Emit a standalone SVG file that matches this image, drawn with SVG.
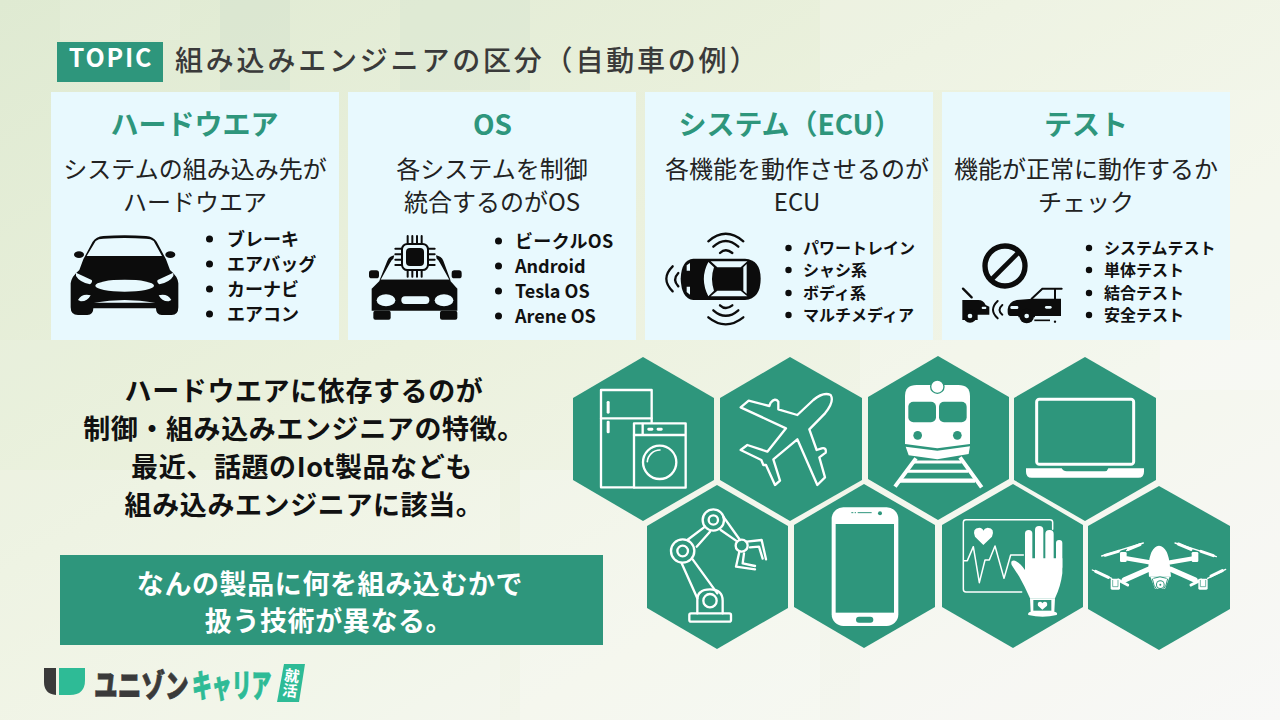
<svg xmlns="http://www.w3.org/2000/svg" width="1280" height="720" viewBox="0 0 1280 720">
<style>
text{font-family:"Noto Sans CJK JP","Noto Sans",sans-serif}
.card{fill:#e8f9fe}
.hd{font-size:28px;font-weight:700;fill:#2e967c;text-anchor:middle}
.bd{font-size:24px;font-weight:400;fill:#222;text-anchor:middle}
.l1{font-size:18px;font-weight:700;fill:#111}
.l2{font-size:16px;font-weight:700;fill:#111}
.lead{font-size:27px;font-weight:700;fill:#111;text-anchor:middle;letter-spacing:.6px}
.ban{font-size:27px;font-weight:700;fill:#fff;text-anchor:middle;letter-spacing:.6px}
.hex{fill:#2e967c}
.ws{fill:none;stroke:#fff;stroke-linecap:round;stroke-linejoin:round}
.w{fill:#fff}
.g{fill:#2e967c}
.k{fill:#0c0c0c}
.c{fill:#e8f9fe}
.ks{fill:none;stroke:#0c0c0c;stroke-linecap:round}
</style>
<defs>
<linearGradient id="bg" x1="0" y1="0" x2="1" y2="1">
<stop offset="0" stop-color="#dfead2"/><stop offset=".4" stop-color="#ebf1dd"/><stop offset=".7" stop-color="#f2f5ea"/><stop offset="1" stop-color="#f7f7f5"/>
</linearGradient>
</defs>
<rect id="background" width="1280" height="720" fill="url(#bg)"/>
<g id="mosaic" fill="#fff">
<rect x="0" y="470" width="500" height="250" opacity=".18"/>
<rect x="520" y="470" width="300" height="250" opacity=".22"/>
<rect x="820" y="0" width="460" height="90" opacity=".18"/>
<rect x="1160" y="90" width="120" height="300" opacity=".25"/>
<rect x="60" y="0" width="120" height="40" opacity=".1"/>
<rect x="0" y="340" width="100" height="130" opacity=".08"/>
<rect x="860" y="340" width="420" height="380" opacity=".2"/>
<rect x="220" y="0" width="70" height="90" fill="#cfe0cb" opacity=".35"/>
<rect x="400" y="0" width="130" height="90" fill="#cfe0cb" opacity=".22"/>
</g>

<g id="title">
<rect x="57" y="42" width="106" height="40" fill="#2e967c"/>
<text x="111" y="67" font-size="25" font-weight="700" fill="#fff" text-anchor="middle" letter-spacing="1.8">TOPIC</text>
<text x="175" y="71" font-size="28" font-weight="500" fill="#3a3a3a" letter-spacing="2.8">組み込みエンジニアの区分（自動車の例）</text>
</g>

<g id="card-hardware">
<rect class="card" x="51" y="92" width="288" height="248"/>
<text class="hd" x="194.500" y="134.500">ハードウエア</text>
<text class="bd" x="195" y="178">システムの組み込み先が</text>
<text class="bd" x="195" y="211">ハードウエア</text>
<g transform="translate(50 220) scale(.33333)">
<path class="k" d="M100 118 L128 65 Q138 50 160 48 Q224 44 288 48 Q310 50 320 65 L348 118 L360 150 Q384 170 385 190 V262 Q385 285 365 285 H335 Q318 285 318 265 H130 Q130 285 112 285 H84 Q62 285 62 262 V190 Q64 170 88 150Z"/>
<ellipse class="k" cx="87" cy="104" rx="15" ry="10"/><ellipse class="k" cx="361" cy="104" rx="15" ry="10"/>
<path class="c" d="M110 108 L137 63 Q145 56 160 56 Q224 52 288 56 Q303 56 311 63 L336 108Z"/>
<path class="c" d="M78 158 L125 180 Q129 186 120 193 Q88 186 78 168Z M370 158 L323 180 Q319 186 328 193 Q360 186 370 168Z"/>
<ellipse class="c" cx="224" cy="197" rx="88" ry="18"/>
<path class="c" d="M84 240 Q95 220 122 226 Q112 245 92 244Z M364 240 Q353 220 326 226 Q336 245 356 244Z M132 248 Q224 232 316 248Z"/>
</g>
<circle cx="209.500" cy="239" r="3.500" class="k"/><circle cx="209.500" cy="264" r="3.500" class="k"/><circle cx="209.500" cy="289" r="3.500" class="k"/><circle cx="209.500" cy="314" r="3.500" class="k"/>
<text class="l1" x="227" y="246">ブレーキ</text>
<text class="l1" x="227" y="271">エアバッグ</text>
<text class="l1" x="227" y="296">カーナビ</text>
<text class="l1" x="227" y="321">エアコン</text>
</g>

<g id="card-os">
<rect class="card" x="348" y="92" width="288" height="248"/>
<text class="hd" x="492.500" y="134.500">OS</text>
<text class="bd" x="492" y="178">各システムを制御</text>
<text class="bd" x="492" y="211">統合するのがOS</text>
<g transform="translate(360 228) scale(.33333)">
<path class="k" d="M58 158 L82 98 Q88 85 103 82 L100 92 Q95 95 90 105 L62 155 H268 L240 105 Q235 95 230 92 L228 82 Q244 85 250 98 L272 158Z"/>
<rect class="k" x="27" y="127" width="30" height="24" rx="8"/><rect class="k" x="275" y="127" width="30" height="24" rx="8"/>
<path class="k" d="M62 155 H268 L292 182 V248 H35 V182Z"/>
<rect class="k" x="40" y="248" width="52" height="27" rx="6"/><rect class="k" x="240" y="248" width="52" height="27" rx="6"/>
<ellipse class="c" cx="78" cy="217" rx="28" ry="18"/><ellipse class="c" cx="252" cy="217" rx="28" ry="18"/><rect class="c" x="124" y="205" width="84" height="23" rx="11"/>
<rect class="c" x="118" y="40" width="94" height="94" rx="16"/>
<rect x="126" y="48" width="78" height="78" rx="16" fill="none" stroke="#0c0c0c" stroke-width="6"/>
<rect class="k" x="138" y="60" width="54" height="54" rx="12"/>
<path stroke="#0c0c0c" stroke-width="6" stroke-linecap="round" fill="none" d="M143 24 V46 M157 24 V46 M171 24 V46 M185 24 V46 M143 128 V146 M157 128 V146 M171 128 V146 M185 128 V146 M106 62 H124 M106 79 H124 M106 95 H124 M106 111 H124 M206 62 H224 M206 79 H224 M206 95 H224 M206 111 H224"/>
</g>
<circle cx="498.500" cy="241" r="3.500" class="k"/><circle cx="498.500" cy="266" r="3.500" class="k"/><circle cx="498.500" cy="291" r="3.500" class="k"/><circle cx="498.500" cy="316" r="3.500" class="k"/>
<text class="l1" x="515" y="248" letter-spacing=".35">ビークルOS</text>
<text class="l1" x="515" y="273">Android</text>
<text class="l1" x="515" y="298">Tesla OS</text>
<text class="l1" x="515" y="323">Arene OS</text>
</g>

<g id="card-ecu">
<rect class="card" x="645" y="92" width="288" height="248"/>
<text class="hd" x="790" y="134.500">システム（ECU）</text>
<text class="bd" x="797" y="178">各機能を動作させるのが</text>
<text class="bd" x="797" y="211">ECU</text>
<g transform="translate(660 228) scale(.33333)">
<path class="k" d="M100 92 H255 Q302 95 302 152 Q302 212 255 216 H100 Q64 212 62 152 Q64 95 100 92Z"/>
<path class="c" d="M152 100 H262 L242 118 H172Z M152 205 H262 L242 188 H172Z M145 102 L162 118 Q150 152 162 188 L145 205 Q118 152 145 102Z M250 118 L260 108 V197 L250 188Z"/>
<path class="c" d="M80 112 L90 105 V128 L80 128Z M80 192 L90 200 V176 L80 176Z"/>
<g class="ks" stroke-width="7"><path d="M145 40 Q197 -5 250 40"/><path d="M160 56 Q197 22 235 56"/><path d="M180 75 Q197 58 217 75"/><path d="M180 232 Q197 248 217 232"/><path d="M160 247 Q197 280 235 247"/><path d="M145 268 Q197 310 250 268"/><path d="M38 115 Q0 152 38 190"/><path d="M55 135 Q36 155 55 175"/></g>
</g>
<circle cx="788.500" cy="248" r="3.200" class="k"/><circle cx="788.500" cy="270" r="3.200" class="k"/><circle cx="788.500" cy="293" r="3.200" class="k"/><circle cx="788.500" cy="315" r="3.200" class="k"/>
<text class="l2" x="803" y="254">パワートレイン</text>
<text class="l2" x="803" y="276">シャシ系</text>
<text class="l2" x="803" y="299">ボディ系</text>
<text class="l2" x="803" y="321">マルチメディア</text>
</g>

<g id="card-test">
<rect class="card" x="942" y="92" width="288" height="248"/>
<text class="hd" x="1086" y="134.500">テスト</text>
<text class="bd" x="1086" y="178">機能が正常に動作するか</text>
<text class="bd" x="1086" y="211">チェック</text>
<g transform="translate(955 240) scale(.33333)">
<circle cx="150" cy="78" r="60" fill="none" stroke="#0c0c0c" stroke-width="16"/>
<path d="M108 120 L192 36" stroke="#0c0c0c" stroke-width="14"/>
<path d="M24 146 L50 172" stroke="#0c0c0c" stroke-width="7" stroke-linecap="round"/>
<path class="k" d="M22 180 H70 Q85 180 92 195 L103 200 V224 H68 V240 H22Z"/>
<circle class="k" cx="45" cy="228" r="20"/><circle class="c" cx="45" cy="228" r="7"/>
<rect class="c" x="80" y="200" width="14" height="7" rx="3"/>
<path stroke="#0c0c0c" stroke-width="6" fill="none" stroke-linecap="round" d="M230 176 L262 146 H320 M300 146 V176"/>
<path class="k" d="M158 208 Q160 186 185 180 L232 176 H318 V228 H240 V232 H190 V228 H165 Q158 226 158 215Z"/>
<rect class="c" x="166" y="198" width="24" height="9" rx="4"/><rect class="c" x="270" y="198" width="20" height="8" rx="4"/>
<circle class="k" cx="215" cy="228" r="22"/><circle class="c" cx="215" cy="228" r="7"/>
<path d="M238 241 H285" stroke="#0c0c0c" stroke-width="5"/><circle class="k" cx="300" cy="245" r="3.500"/>
<g class="ks" stroke-width="6"><path d="M128 183 Q100 210 128 235"/><path d="M142 195 Q125 210 142 224"/></g>
</g>
<circle cx="1089" cy="248" r="3.200" class="k"/><circle cx="1089" cy="270" r="3.200" class="k"/><circle cx="1089" cy="293" r="3.200" class="k"/><circle cx="1089" cy="315" r="3.200" class="k"/>
<text class="l2" x="1104" y="254">システムテスト</text>
<text class="l2" x="1104" y="276">単体テスト</text>
<text class="l2" x="1104" y="299">結合テスト</text>
<text class="l2" x="1104" y="321">安全テスト</text>
</g>

<g id="lead-text">
<text class="lead" x="304" y="401">ハードウエアに依存するのが</text>
<text class="lead" x="304" y="439">制御・組み込みエンジニアの特徴。</text>
<text class="lead" x="302" y="477">最近、話題のIot製品なども</text>
<text class="lead" x="304" y="515">組み込みエンジニアに該当。</text>
</g>

<g id="banner">
<rect x="60" y="555" width="543" height="90" fill="#2e967c"/>
<text class="ban" x="330" y="594">なんの製品に何を組み込むかで</text>
<text class="ban" x="329" y="631">扱う技術が異なる。</text>
</g>

<g id="hex-appliances">
<polygon class="hex" points="643,357 714,398 714,480 643,521 573,480 573,398"/>
<g transform="translate(560 350) scale(.33333)">
<g class="ws" stroke-width="7"><path d="M222 412 H123 V120 H275 V218"/><path d="M123 205 H275"/><rect x="222" y="220" width="155" height="193"/><path d="M222 255 H375 M248 222 V255"/><circle cx="299" cy="337" r="50"/></g>
<path class="ws" stroke-width="5" d="M262 335 A38 38 0 0 1 300 300"/>
<rect class="w" x="140" y="153" width="9" height="38" rx="4"/><rect class="w" x="140" y="212" width="9" height="38" rx="4"/>
<rect class="w" x="262" y="233" width="18" height="9" rx="4"/><rect class="w" x="290" y="233" width="18" height="9" rx="4"/>
</g>
</g>
<g id="hex-airplane">
<polygon class="hex" points="790,357 862,398 862,480 790,521 720,480 720,398"/>
<g transform="translate(560 350) scale(.33333)">
<path class="ws" stroke-width="7" d="M812 135 Q790 125 760 150 L712 195 L655 178 L655 155 Q645 142 632 158 L628 168 L566 152 L542 172 L678 235 L622 305 L562 285 L542 300 L604 330 L610 345 L618 345 L645 405 L660 392 L640 328 L712 268 L772 405 L795 382 L778 322 L797 308 Q800 292 785 295 L770 300 L748 238 L795 190 Q824 155 812 135Z"/>
</g>
</g>
<g id="hex-train">
<polygon class="hex" points="938,356 1009,397 1009,479 938,520 868,479 868,397"/>
<g transform="translate(860 350) scale(.33333)">
<path class="w" d="M135 138 Q135 105 170 105 H295 Q330 105 330 138 V282 L232 295 L135 282Z"/>
<circle class="w" cx="232" cy="110" r="20" stroke="#2e967c" stroke-width="4"/>
<rect class="g" x="145" y="155" width="83" height="62" rx="15"/><rect class="g" x="237" y="155" width="83" height="62" rx="15"/>
<circle class="g" cx="173" cy="256" r="13"/><circle class="g" cx="292" cy="256" r="13"/>
<path class="w" d="M137 290 L232 302 L330 289 L326 312 L232 328 L146 316Z"/>
<path stroke="#fff" stroke-width="12" d="M105 410 L168 325 M365 412 L300 322"/>
<path stroke="#fff" stroke-width="13" d="M120 392 H345"/><path stroke="#fff" stroke-width="9" d="M142 364 H325 M162 336 H305"/>
</g>
</g>
<g id="hex-laptop">
<polygon class="hex" points="1085,357 1156,398 1156,480 1085,521 1014,480 1014,398"/>
<g transform="translate(860 350) scale(.33333)">
<rect class="ws" stroke-width="9" x="530" y="148" width="291" height="195" rx="8"/>
<path class="w" d="M498 355 H605 Q610 364 620 364 H735 Q742 364 745 355 H852 V365 Q852 383 835 383 H515 Q498 383 498 365Z"/>
</g>
</g>
<g id="hex-robot">
<polygon class="hex" points="717,485 788,526 788,608 717,649 647,608 647,526"/>
<g transform="translate(560 350) scale(.33333)">
<g class="ws" stroke-width="7">
<circle cx="368" cy="603" r="35"/><circle cx="368" cy="603" r="16"/><circle cx="460" cy="510" r="32"/><circle cx="460" cy="510" r="14"/><circle cx="545" cy="587" r="18"/>
<path d="M382 570 L435 530 M410 590 L450 545 M482 540 L528 572 M490 500 L540 570 M365 640 L412 745 M398 628 L472 730"/>
<path d="M412 790 V750 Q412 718 450 718 Q488 718 488 752 V790"/><circle cx="450" cy="752" r="20"/>
<rect x="388" y="790" width="125" height="25" rx="5"/>
<path d="M560 575 L605 570 L618 628 M570 592 L597 590 L608 626 M538 605 L528 650 L585 658 M552 610 L548 640 L585 648"/>
</g>
</g>
</g>
<g id="hex-phone">
<polygon class="hex" points="864,484 935,525 935,607 864,648 794,607 794,525"/>
<g transform="translate(560 350) scale(.33333)">
<rect class="w" x="815" y="472" width="200" height="356" rx="35"/>
<rect class="g" x="827" y="522" width="175" height="266"/>
<rect class="g" x="888" y="800" width="52" height="18" rx="9"/>
<circle class="g" cx="960" cy="490" r="6"/><path stroke="#2e967c" stroke-width="3" d="M874 488 H880 M884 488 H888 M893 488 H935"/>
</g>
</g>
<g id="hex-health">
<polygon class="hex" points="1013,484 1083,525 1083,607 1013,648 942,607 942,525"/>
<g transform="translate(860 350) scale(.33333)">
<path class="ws" stroke-width="4.500" d="M485 726 H318 Q310 726 310 718 V517 Q310 509 318 509 H570 Q578 509 578 517 V538"/>
<path class="ws" stroke-width="4.500" d="M312 632 H322 L340 590 L358 698 L375 630 H388 L405 588 L432 685 L452 615 H490"/>
<path class="w" d="M370 585 L345 560 Q335 535 358 533 Q368 534 370 542 Q373 534 383 533 Q406 535 396 560Z"/>
<rect class="w" x="495" y="540" width="22" height="110" rx="11"/><rect class="w" x="525" y="528" width="25" height="120" rx="12"/><rect class="w" x="556" y="540" width="25" height="110" rx="12"/><rect class="w" x="588" y="570" width="19" height="90" rx="9"/>
<path class="w" d="M495 625 H607 V670 Q602 710 585 745 H510 Q495 710 478 680 L455 645 Q450 630 465 632 Q482 640 495 660Z"/>
<path class="w" d="M510 745 H585 L583 785 Q595 788 590 795 Q548 805 505 795 Q502 788 512 785Z"/>
<rect class="g" x="520" y="750" width="54" height="32"/>
<path class="w" d="M547 779 L534 767 Q531 755 541 755 Q546 756 547 760 Q549 756 554 755 Q564 755 561 767Z"/>
</g>
</g>
<g id="hex-drone">
<polygon class="hex" points="1159,486 1230,526 1230,609 1159,650 1088,609 1088,526"/>
<g transform="translate(1085 530) scale(.33333)">
<path class="w" d="M190 110 Q195 50 222 47 Q250 50 255 110 L258 140 H192Z"/>
<path class="w" d="M196 140 H254 L240 176 H210Z"/>
<path fill="none" stroke="#2e967c" stroke-width="3" d="M202 146 Q206 170 214 176 M248 146 Q244 170 236 176 M205 145 Q225 136 245 145"/>
<circle class="g" cx="226" cy="164" r="13"/><circle class="w" cx="226" cy="164" r="10"/><circle class="g" cx="226" cy="164" r="3"/>
<g stroke="#fff" fill="none" stroke-linecap="round">
<path stroke-width="13" d="M195 97 L125 85 M255 97 L325 85"/><path stroke-width="16" d="M190 118 L118 150 M258 118 L330 150"/>
<path stroke-width="4" d="M100 62 L175 39 M125 62 L175 39 M270 39 L342 62 M342 62 L394 80 M50 78 L105 62 M22 120 L80 145 M368 145 L422 118"/>
<path stroke-width="9" d="M60 76 L100 64 M280 42 L318 58 M130 58 L165 44 M348 64 L385 77 M32 124 L70 142 M100 150 L128 165 M318 165 L348 150 M378 138 L412 122"/>
</g>
<rect class="w" x="105" y="66" width="20" height="30" rx="4"/><rect class="w" x="320" y="66" width="20" height="30" rx="4"/><rect class="w" x="77" y="146" width="28" height="33" rx="4"/><rect class="w" x="340" y="146" width="28" height="33" rx="4"/>
<path fill="none" stroke="#2e967c" stroke-width="2" d="M83 150 V170 H99 V150 M346 150 V170 H362 V150"/>
</g>
</g>

<g id="logo">
<path d="M44 668 H56 V695 Q44 694 44 682Z" fill="#3a3a3a"/>
<path d="M59 668 H85 V680 Q85 695 70 695 H59Z" fill="#2ebb96"/>
<text transform="translate(94 697) scale(.74 1)" font-size="32" font-weight="900" fill="#3a3a3a" stroke="#3a3a3a" stroke-width=".8">ユニゾン</text>
<text transform="translate(192 697) scale(.62 1)" font-size="32" font-weight="900" fill="#2ebb96" stroke="#2ebb96" stroke-width=".8">キャリア</text>
<polygon points="284,664 305,664 299,702 277,702" fill="#2ebb96"/>
<text x="291" y="683" font-size="15" font-weight="700" fill="#fff" text-anchor="middle" writing-mode="vertical-rl" transform="rotate(8 291 683)">就活</text>
</g>
</svg>
